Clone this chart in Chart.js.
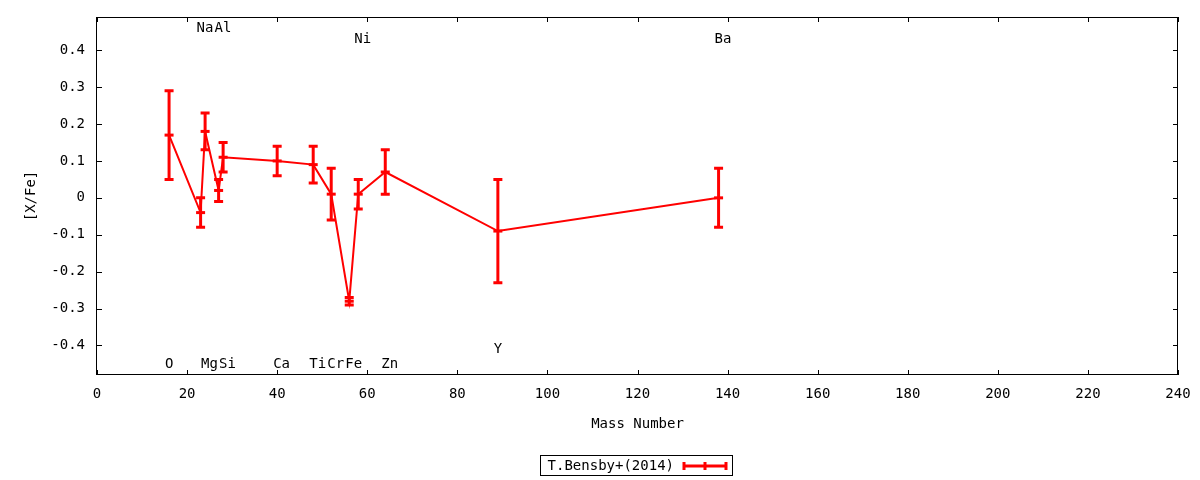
<!DOCTYPE html>
<html>
<head>
<meta charset="utf-8">
<script src="https://cdn.jsdelivr.net/npm/chart.js@4.4.1/dist/chart.umd.min.js"></script>
<style>
  html, body { margin: 0; padding: 0; background: #fff; }
  #wrap { width: 1200px; height: 480px; }
</style>
</head>
<body>
<div id="wrap"><canvas id="abund" width="1200" height="480"></canvas></div>
<script>
// [X/Fe] vs mass number, T.Bensby+(2014)
const elements   = ['O', 'Na', 'Mg', 'Al', 'Si', 'Ca', 'Ti', 'Cr', 'Fe', 'Ni', 'Zn', 'Y', 'Ba'];
const massNumber = [16, 23, 24, 27, 28, 40, 48, 52, 56, 58, 64, 89, 138];
const xFe        = [0.17, -0.04, 0.18, 0.02, 0.11, 0.10, 0.09, 0.01, -0.28, 0.01, 0.07, -0.09, 0.00];
const xFeErr     = [0.12, 0.04, 0.05, 0.03, 0.04, 0.04, 0.05, 0.07, 0.01, 0.04, 0.06, 0.14, 0.08];
// where each element name sits on the [X/Fe] axis
const labelY     = [-0.45, 0.46, -0.45, 0.46, -0.45, -0.45, -0.45, -0.45, -0.45, 0.43, -0.45, -0.41, 0.43];

const xMin = 0, xMax = 240, xStep = 20;
const yMin = -0.48, yMax = 0.49, yStep = 0.1;
const seriesName = 'T.Bensby+(2014)';

const RED = '#ff0000';
const FONT = '"DejaVu Sans Mono", monospace';

const points = massNumber.map((m, i) => ({ x: m, y: xFe[i] }));

// error bars, frame with inward ticks, element names, legend
const gnuplotBits = {
  id: 'gnuplotBits',
  afterDatasetsDraw(chart) {
    const ctx = chart.ctx;
    const xs = chart.scales.x, ys = chart.scales.y;
    ctx.save();
    ctx.strokeStyle = RED;
    ctx.lineCap = 'butt';
    massNumber.forEach((m, i) => {
      const px = xs.getPixelForValue(m);
      const top = ys.getPixelForValue(xFe[i] + xFeErr[i]);
      const bot = ys.getPixelForValue(xFe[i] - xFeErr[i]);
      ctx.lineWidth = 3;
      ctx.beginPath();
      ctx.moveTo(px, top); ctx.lineTo(px, bot);
      ctx.stroke();
      ctx.beginPath();
      ctx.moveTo(px - 4.5, top); ctx.lineTo(px + 4.5, top);
      ctx.moveTo(px - 4.5, bot); ctx.lineTo(px + 4.5, bot);
      ctx.stroke();
    });
    ctx.restore();
  },
  afterDraw(chart) {
    const ctx = chart.ctx;
    const a = chart.chartArea;
    const xs = chart.scales.x, ys = chart.scales.y;
    ctx.save();
    // frame
    ctx.strokeStyle = '#000';
    ctx.lineWidth = 1;
    ctx.strokeRect(Math.round(a.left) - 0.5, Math.round(a.top) + 0.5,
                   Math.round(a.right - a.left), Math.round(a.bottom - a.top) - 1);
    // mirrored inward ticks
    const tl = 5;
    ctx.beginPath();
    xs.ticks.forEach(t => {
      const px = Math.round(xs.getPixelForValue(t.value)) + 0.5;
      ctx.moveTo(px, a.bottom); ctx.lineTo(px, a.bottom - tl);
      ctx.moveTo(px, a.top); ctx.lineTo(px, a.top + tl);
    });
    ys.ticks.forEach(t => {
      const py = Math.round(ys.getPixelForValue(t.value)) + 0.5;
      ctx.moveTo(a.left, py); ctx.lineTo(a.left + tl, py);
      ctx.moveTo(a.right, py); ctx.lineTo(a.right - tl, py);
    });
    ctx.stroke();

    // element names
    ctx.fillStyle = '#000';
    ctx.font = '14px ' + FONT;
    ctx.textAlign = 'left';
    ctx.textBaseline = 'middle';
    elements.forEach((el, i) => {
      ctx.fillText(el, xs.getPixelForValue(massNumber[i]) - 4, ys.getPixelForValue(labelY[i]));
    });

    // legend box
    const lx = 540.5, ly = 455.5, lw = 192, lh = 20;
    ctx.strokeRect(lx, ly, lw, lh);
    ctx.textAlign = 'right';
    ctx.fillText(seriesName, 674, ly + lh / 2 + 1);
    const sy = ly + lh / 2 + 0.5, s0 = 684, s1 = 726, sm = (s0 + s1) / 2;
    ctx.strokeStyle = RED;
    ctx.lineWidth = 3;
    ctx.beginPath();
    ctx.moveTo(s0, sy); ctx.lineTo(s1, sy);
    ctx.moveTo(s0, sy - 4); ctx.lineTo(s0, sy + 4);
    ctx.moveTo(s1, sy - 4); ctx.lineTo(s1, sy + 4);
    ctx.moveTo(sm, sy - 4); ctx.lineTo(sm, sy + 4);
    ctx.stroke();
    ctx.restore();
  }
};

const chart = new Chart(document.getElementById('abund'), {
  type: 'line',
  data: {
    datasets: [{
      label: seriesName,
      data: points,
      borderColor: RED,
      backgroundColor: RED,
      borderWidth: 2,
      tension: 0,
      fill: false,
      pointStyle: 'line',
      pointRadius: 4.5,
      pointBorderWidth: 3,
      pointBorderColor: RED
    }]
  },
  options: {
    responsive: false,
    animation: false,
    devicePixelRatio: 1,
    layout: { padding: { top: 17, right: 22, left: 0, bottom: 0 } },
    plugins: {
      legend: { display: false },
      tooltip: { enabled: false }
    },
    scales: {
      x: {
        type: 'linear',
        min: xMin, max: xMax,
        grid: { display: false, drawTicks: false },
        border: { display: false },
        ticks: {
          stepSize: xStep,
          padding: 11,
          color: '#000',
          font: { family: FONT, size: 14 },
          maxRotation: 0
        },
        title: {
          display: true,
          text: 'Mass Number',
          color: '#000',
          font: { family: FONT, size: 14 },
          padding: { top: 0, bottom: 47 }
        },
        afterFit(scale) {
          scale.height = 105;
          scale.paddingLeft = 0;
          scale.paddingRight = 0;
        }
      },
      y: {
        type: 'linear',
        min: yMin, max: yMax,
        grid: { display: false, drawTicks: false },
        border: { display: false },
        ticks: {
          stepSize: yStep,
          includeBounds: false,
          padding: 12,
          color: '#000',
          font: { family: FONT, size: 14 },
          callback: v => (Math.abs(v) < 1e-9 ? '0' : v.toFixed(1))
        },
        title: {
          display: true,
          text: '[X/Fe]',
          color: '#000',
          font: { family: FONT, size: 14 },
          padding: { top: 23, bottom: 0 }
        },
        afterFit(scale) {
          scale.width = 97;
          scale.paddingTop = 0;
          scale.paddingBottom = 0;
        }
      }
    }
  },
  plugins: [gnuplotBits]
});
</script>
</body>
</html>
